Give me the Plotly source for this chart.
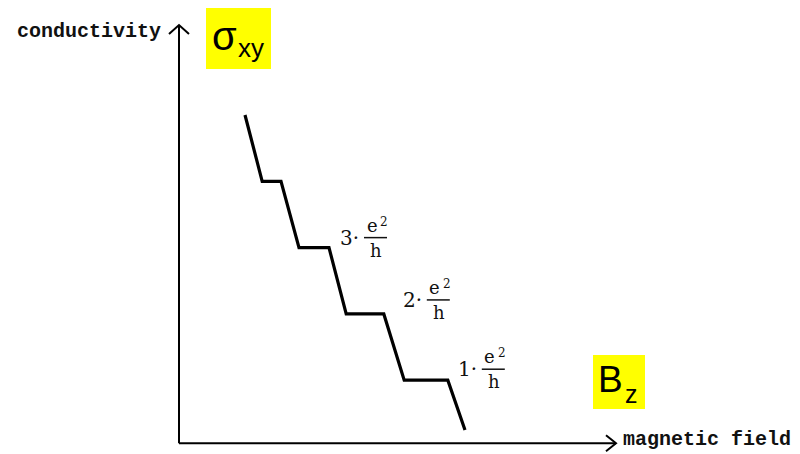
import plotly.graph_objects as go

# Hall conductivity vs. magnetic field: staircase with plateaus at n·e²/h
field_B = [1.65, 2.08, 2.55, 3.0, 3.75, 4.18, 5.12, 5.63, 6.72, 7.15]
sigma_xy = [5.0, 4.0, 4.0, 3.0, 3.0, 2.0, 2.0, 1.0, 1.0, 0.25]

# plateau labels: quantum number and the B value where each plateau ends
plateau_n = [3, 2, 1]
plateau_end_B = [3.75, 5.12, 6.72]

W, H = 800, 454
X_RANGE = [-4.475, 15.525]
Y_RANGE = [-0.113, 6.735]

# axis geometry (data units)
AX_B0, AX_S0 = 0.0, 0.05
AX_B1, AX_S1 = 10.925, 6.357


def px(x):
    return x / W


def py(y):
    return 1 - y / H


fig = go.Figure()

fig.add_trace(go.Scatter(
    x=field_B, y=sigma_xy, mode="lines",
    line=dict(color="black", width=3.2),
    hoverinfo="skip", showlegend=False,
))

shapes = []
# axes
shapes.append(dict(type="line", xref="x", yref="y", x0=AX_B0, y0=AX_S0,
                   x1=AX_B0, y1=AX_S1, line=dict(color="black", width=2)))
shapes.append(dict(type="line", xref="x", yref="y", x0=AX_B0, y0=AX_S0,
                   x1=AX_B1, y1=AX_S0, line=dict(color="black", width=2)))
# open arrowheads
shapes.append(dict(type="path", xref="x", yref="y", xsizemode="pixel",
                   ysizemode="pixel", xanchor=AX_B0, yanchor=AX_S1,
                   path="M-10,-9 L0,0 L10,-9", line=dict(color="black", width=2)))
shapes.append(dict(type="path", xref="x", yref="y", xsizemode="pixel",
                   ysizemode="pixel", xanchor=AX_B1, yanchor=AX_S0,
                   path="M-10,8 L0,0 L-10,-8", line=dict(color="black", width=2)))

# yellow symbol boxes
shapes.append(dict(type="rect", xref="paper", yref="paper",
                   x0=px(206), x1=px(271), y0=py(69), y1=py(8),
                   fillcolor="#ffff00", line=dict(width=0), layer="below"))
shapes.append(dict(type="rect", xref="paper", yref="paper",
                   x0=px(593), x1=px(645), y0=py(409), y1=py(355),
                   fillcolor="#ffff00", line=dict(width=0), layer="below"))

annotations = []
mono = dict(family="Liberation Mono", size=20, color="#111")
annotations.append(dict(xref="paper", yref="paper", x=px(15), y=py(32),
                        text="<b>conductivity</b>", showarrow=False,
                        xanchor="left", yanchor="middle", font=mono))
annotations.append(dict(xref="paper", yref="paper", x=px(621), y=py(439),
                        text="<b>magnetic field</b>", showarrow=False,
                        xanchor="left", yanchor="middle", font=mono))

sans = "Liberation Sans"
annotations.append(dict(xref="paper", yref="paper", x=px(210), y=py(36),
                        text="σ", showarrow=False, xanchor="left",
                        yanchor="middle", font=dict(family=sans, size=40, color="black")))
annotations.append(dict(xref="paper", yref="paper", x=px(236), y=py(48),
                        text="xy", showarrow=False, xanchor="left",
                        yanchor="middle", font=dict(family=sans, size=26, color="black")))
annotations.append(dict(xref="paper", yref="paper", x=px(596), y=py(379),
                        text="B", showarrow=False, xanchor="left",
                        yanchor="middle", font=dict(family=sans, size=37, color="black")))
annotations.append(dict(xref="paper", yref="paper", x=px(623), y=py(394),
                        text="z", showarrow=False, xanchor="left",
                        yanchor="middle", font=dict(family=sans, size=25, color="black")))

# plateau labels "n·e²/h" (pixel offsets from the plateau's right end)
label_dx = [11, 19, 10]
label_dy = [10, 14, 11]
serif = dict(family="DejaVu Serif", size=20, color="#111")
frac = dict(family="DejaVu Serif", size=18, color="#111")
for n, b_end, dx, dy in zip(plateau_n, plateau_end_B, label_dx, label_dy):
    s = float(n)
    annotations.append(dict(x=b_end, y=s, xshift=dx - 1, yshift=dy,
                            text=f"{n}·", showarrow=False, xanchor="left",
                            yanchor="middle", font=serif, borderpad=0))
    annotations.append(dict(x=b_end, y=s, xshift=dx + 32, yshift=dy + 1,
                            text="e", showarrow=False, xanchor="center",
                            yanchor="bottom", font=frac, borderpad=0))
    annotations.append(dict(x=b_end, y=s, xshift=dx + 44, yshift=dy + 8,
                            text="2", showarrow=False, xanchor="center",
                            yanchor="bottom", borderpad=0,
                            font=dict(family="DejaVu Serif", size=12, color="#111")))
    annotations.append(dict(x=b_end, y=s, xshift=dx + 36, yshift=dy - 1,
                            text="h", showarrow=False, xanchor="center",
                            yanchor="top", font=frac, borderpad=0))
    shapes.append(dict(type="line", xref="x", yref="y", xsizemode="pixel",
                       ysizemode="pixel", xanchor=b_end, yanchor=s,
                       x0=dx + 24, x1=dx + 47, y0=dy, y1=dy,
                       line=dict(color="#111", width=1.5)))

fig.update_layout(
    width=W, height=H,
    margin=dict(l=0, r=0, t=0, b=0),
    paper_bgcolor="white", plot_bgcolor="white",
    xaxis=dict(range=X_RANGE, visible=False, fixedrange=True),
    yaxis=dict(range=Y_RANGE, visible=False, fixedrange=True),
    shapes=shapes, annotations=annotations,
    showlegend=False,
)

fig.write_html("out.html", config={"displayModeBar": False})
